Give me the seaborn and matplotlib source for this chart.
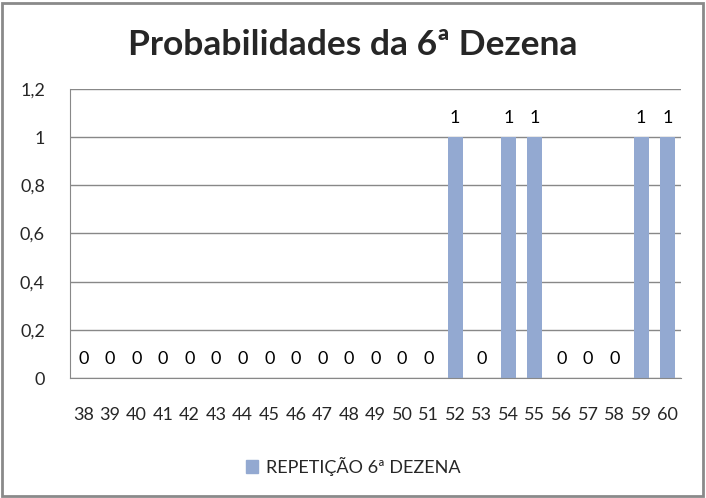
import numpy as np
import pandas as pd
import seaborn as sns
import matplotlib.pyplot as plt
from matplotlib.patches import Rectangle
from matplotlib.ticker import FuncFormatter

# dados
dezenas = ["38", "39", "40", "41", "42", "43", "44", "45", "46", "47", "48", "49",
           "50", "51", "52", "53", "54", "55", "56", "57", "58", "59", "60"]
repeticao = [0, 0, 0, 0, 0, 0, 0, 0, 0, 0, 0, 0,
             0, 0, 1, 0, 1, 1, 0, 0, 0, 1, 1]
serie = "REPETIÇÃO 6ª DEZENA"

df = pd.DataFrame({"dezena": dezenas, "valor": repeticao, "serie": serie})

sns.set_style("white")
plt.rcParams["font.family"] = ["Lato", "DejaVu Sans"]

fig = plt.figure(figsize=(7.06, 4.98), dpi=100)
ax = fig.add_axes([70 / 706, 120 / 498, 611 / 706, 289 / 498])

cor = "#93A9D1"
sns.barplot(data=df, x="dezena", y="valor", hue="serie", palette=[cor],
            width=0.57, ax=ax, legend=False, saturation=1, linewidth=0)

for c in ax.containers:
    ax.bar_label(c, fmt="%g", padding=8, fontsize=13, color="black")

ax.set_ylim(0, 1.2)
ax.set_yticks(np.arange(0, 1.21, 0.2))
ax.yaxis.set_major_formatter(FuncFormatter(lambda v, p: f"{v:g}".replace(".", ",")))
ax.set_xlim(-0.5, len(dezenas) - 0.5)
ax.grid(axis="y", color="#888888", linewidth=1)
ax.set_axisbelow(True)
ax.set_xlabel("")
ax.set_ylabel("")
for s in ["top", "right"]:
    ax.spines[s].set_visible(False)
ax.spines["left"].set_color("#888888")
ax.spines["bottom"].set_color("#888888")
ax.tick_params(axis="x", length=0, pad=21, labelsize=13)
ax.tick_params(axis="y", length=0, pad=18, labelsize=13)

fig.text(0.5, 1 - 45 / 498, "Probabilidades da 6ª Dezena", ha="center", va="center",
         fontsize=25.5, fontweight="bold")

# legenda
fig.legend(handles=[Rectangle((0, 0), 1, 1, color=cor)], labels=[serie],
           loc="center", bbox_to_anchor=(0.5, 1 - 466 / 498), frameon=False,
           fontsize=13, handlelength=0.7, handleheight=0.7, handletextpad=0.4)

# moldura
fig.patches.append(Rectangle((2 / 706, 2 / 498), 701 / 706, 493 / 498,
                             transform=fig.transFigure, fill=False,
                             edgecolor="#8a8a8a", linewidth=2))

fig.savefig("out.png", dpi=100)
